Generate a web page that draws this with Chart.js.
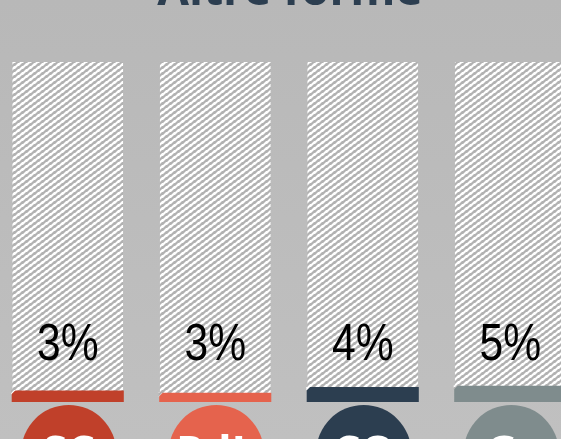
<!DOCTYPE html>
<html>
<head>
<meta charset="utf-8">
<script src="https://cdn.jsdelivr.net/npm/chart.js@4"></script>
<style>
  html, body { margin: 0; padding: 0; width: 561px; height: 439px; overflow: hidden; }
  body { background: linear-gradient(#b8b8b8, #c0c0c0); position: relative; }
  #myChart { position: absolute; left: -6px; top: 0; }
</style>
</head>
<body>
<canvas id="myChart" width="590" height="439"></canvas>
<script>
const categories = ['SC', 'PdL', 'CO', 'Gr'];
const values = [3.4, 2.7, 4.4, 4.8];
const fullScale = [100, 100, 100, 100];
const barColors = ['#c0402a', '#e5634d', '#2c3e50', '#7f8c8d'];
const titleText = 'Altre forme';

// hatch pattern for the "100%" background bars, built pixel by pixel
function makeHatch() {
  const w = 8, h = 6;
  const c = document.createElement('canvas');
  c.width = w; c.height = h;
  const g = c.getContext('2d');
  const img = g.createImageData(w, h);
  for (let py = 0; py < h; py++) {
    for (let px = 0; px < w; px++) {
      const t = (3 * px + 4 * py) % 24;
      let v;
      if (t < 9) v = 178;
      else if (t < 12) v = 210;
      else if (t < 21) v = 255;
      else v = 216;
      const k = (py * w + px) * 4;
      img.data[k] = img.data[k + 1] = img.data[k + 2] = v;
      img.data[k + 3] = 255;
    }
  }
  g.putImageData(img, 0, 0);
  const ctx = document.getElementById('myChart').getContext('2d');
  return ctx.createPattern(c, 'repeat');
}
const hatch = makeHatch();

const extras = {
  id: 'extras',
  afterDatasetsDraw(chart) {
    const ctx = chart.ctx;
    const x = chart.scales.x;
    ctx.save();
    // bevel at top-left corner of colored bars
    const meta = chart.getDatasetMeta(0);
    meta.data.forEach((bar) => {
      const left = bar.x - bar.width / 2;
      ctx.fillStyle = hatch;
      ctx.beginPath();
      ctx.moveTo(left - 0.5, bar.y - 0.5);
      ctx.lineTo(left + 4, bar.y - 0.5);
      ctx.lineTo(left - 0.5, bar.y + 4);
      ctx.closePath();
      ctx.fill();
    });
    // percentage labels (narrow)
    ctx.fillStyle = '#000000';
    ctx.font = '52px "Liberation Sans", Arial, sans-serif';
    ctx.textAlign = 'center';
    ctx.textBaseline = 'alphabetic';
    values.forEach((v, i) => {
      ctx.save();
      ctx.translate(x.getPixelForValue(i), 360);
      ctx.scale(0.82, 1);
      ctx.fillText(Math.round(v) + '%', 0, 0);
      ctx.restore();
    });
    // circles under bars
    values.forEach((v, i) => {
      const cx = x.getPixelForValue(i) + 1;
      ctx.fillStyle = barColors[i];
      ctx.beginPath();
      ctx.arc(cx, 452.5, 47.5, 0, Math.PI * 2);
      ctx.fill();
      ctx.fillStyle = '#ffffff';
      ctx.font = 'bold 44px "Open Sans", sans-serif';
      ctx.fillText(categories[i], cx, 468);
    });
    // title
    ctx.fillStyle = '#2c3e50';
    ctx.font = 'bold 46px "Open Sans", sans-serif';
    ctx.fillText(titleText, 296, 5);
    ctx.restore();
  }
};

const myChart = new Chart(document.getElementById('myChart'), {
  type: 'bar',
  data: {
    labels: categories,
    datasets: [{
      data: values,
      backgroundColor: barColors,
      barPercentage: 0.76,
      categoryPercentage: 1,
      grouped: false
    }, {
      data: fullScale,
      backgroundColor: hatch,
      barPercentage: 0.75,
      categoryPercentage: 1,
      grouped: false
    }]
  },
  options: {
    responsive: false,
    animation: false,
    devicePixelRatio: 1,
    layout: { padding: { top: 62, bottom: 37, left: 0, right: 0 } },
    plugins: { legend: { display: false }, tooltip: { enabled: false }, title: { display: false } },
    scales: {
      x: { display: false },
      y: { display: false, min: 0, max: 100 }
    }
  },
  plugins: [extras]
});
</script>
</body>
</html>
